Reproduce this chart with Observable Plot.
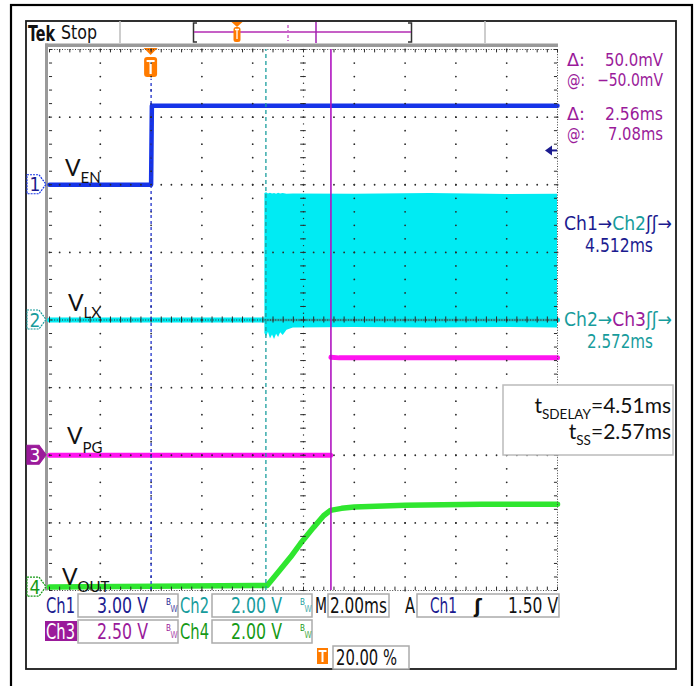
<!DOCTYPE html>
<html>
<head>
<meta charset="utf-8">
<script src="https://cdn.jsdelivr.net/npm/d3@7"></script>
<script src="https://cdn.jsdelivr.net/npm/@observablehq/plot@0.6"></script>
<style>
html,body{margin:0;padding:0;background:#fff;}
#chart{width:699px;height:686px;}
</style>
</head>
<body>
<div id="chart"></div>
<script>
// ---------------- data ----------------
const timeDomain = [-4, 16];                 // ms (2.00 ms/div, trigger at 20 %)
const divDomain = [-4, 4];                   // vertical divisions
const channelVoltsPerDiv = [3.00, 2.00, 2.50, 2.00];
const channelOffsetDiv = [2, 0, -2, -3.95];
const channelNumbers = ["1", "2", "3", "4"];
const channelLabels = [["V", "EN"], ["V", "LX"], ["V", "PG"], ["V", "OUT"]];

// Ch1 : V_EN
const enTime  = [-4, 0, 0.03, 16];
const enVolts = [0, 0, 3.5, 3.5];
// Ch2 : V_LX (baseline + switching envelope)
const lxTime  = [-4, 16];
const lxVolts = [0, 0];
const lxBandTime = [4.48, 4.55, 4.62, 4.7, 4.78, 4.86, 4.94, 5.02, 5.1, 5.2, 5.35, 5.6, 8, 11, 14, 16];
const lxBandHigh = [3.74, 3.76, 3.73, 3.75, 3.73, 3.74, 3.72, 3.75, 3.73, 3.74, 3.72, 3.73, 3.72, 3.74, 3.71, 3.72];
const lxBandLow  = [-0.40, -0.50, -0.36, -0.56, -0.44, -0.58, -0.42, -0.52, -0.38, -0.46, -0.30, -0.24, -0.22, -0.24, -0.22, -0.24];
// Ch3 : V_PG  (null = trace break)
const pgTime  = [-4, 7.07, 7.08, 7.08, 7.4, 16];
const pgVolts = [0, 0, null, 3.62, 3.6, 3.6];
// Ch4 : V_OUT
const outTime  = [-4, 4.57, 4.96, 5.49, 5.88, 6.39, 6.79, 7.06, 7.5, 8, 10, 13, 16];
const outVolts = [0, 0.05, 0.40, 0.89, 1.29, 1.76, 2.11, 2.27, 2.33, 2.37, 2.42, 2.45, 2.45];

const triggerTime = 0;
const cursorTimes = [4.52, 7.08];
const triggerLevelVolts = 1.5;

const cursorReadouts = [["Δ:", "50.0mV"], ["@:", "−50.0mV"], ["Δ:", "2.56ms"], ["@:", "7.08ms"]];
const measureLines = [
  {parts: [["Ch1→", "navy"], ["Ch2", "teal"], ["ʃʃ→", "navy"]], value: "4.512ms", valueColor: "navy"},
  {parts: [["Ch2→", "teal"], ["Ch3", "purple"], ["ʃʃ→", "teal"]], value: "2.572ms", valueColor: "teal"}
];
const noteLines = [["t", "SDELAY", "=4.51ms"], ["t", "SS", "=2.57ms"]];
const scaleTexts = ["3.00 V", "2.00 V", "2.50 V", "2.00 V"];
const horizText = "2.00ms";
const trigText = ["Ch1", "ʃ", "1.50 V"];
const trigPosText = "20.00 %";

// ---------------- styling ----------------
const COL = {
  blue: "#1634e8", cyan: "#00ebf3", magenta: "#ff14f0", green: "#2fe62f",
  navy: "#1b1b8f", teal: "#179c9c", purple: "#9a1a9a", dgreen: "#169a16",
  orange: "#ff7b00", grid: "#2a2a2a"
};
const scopeFont = "'Liberation Sans Narrow','DejaVu Sans Condensed','Arial Narrow','Liberation Sans',sans-serif";
const labelFont = "Lato,'Open Sans','DejaVu Sans',sans-serif";

const toDiv = (ch, v) => (v == null ? NaN : channelOffsetDiv[ch] + v / channelVoltsPerDiv[ch]);
const series = (times, volts, ch) => times.map((t, i) => ({t, y: toDiv(ch, volts[i])}));

const en = series(enTime, enVolts, 0);
const lx = series(lxTime, lxVolts, 1);
const lxBand = lxBandTime.map((t, i) => ({t, lo: toDiv(1, lxBandLow[i]), hi: toDiv(1, lxBandHigh[i])}));
const lxCore = [{t: lxBandTime[0], y: toDiv(1, 0)}, {t: timeDomain[1], y: toDiv(1, 0)}];
const pg = series(pgTime, pgVolts, 2);
const vout = series(outTime, outVolts, 3);

// graticule
const minorX = d3.range(0, 51).map(i => timeDomain[0] + i * 0.4);
const minorY = d3.range(0, 41).map(i => divDomain[0] + i * 0.2);
const halfMinorY = d3.range(0, 81).map(i => divDomain[0] + i * 0.1);
const majorXInner = d3.range(1, 10).map(i => timeDomain[0] + i * 2).filter(x => x !== 6);
const majorYInner = d3.range(1, 8).map(i => divDomain[0] + i).filter(y => y !== 0);
const gridDots = [];
for (const x of majorXInner) for (const y of minorY) gridDots.push({x, y});
for (const y of majorYInner) for (const x of minorX) gridDots.push({x, y});
const centerX = 6, centerY = 0;

const chart = Plot.plot({
  width: 699, height: 686,
  marginLeft: 49, marginRight: 142, marginTop: 49, marginBottom: 96,
  x: {domain: timeDomain, axis: null},
  y: {domain: divDomain, axis: null},
  style: {background: "transparent"},
  marks: [
    // traces
    Plot.areaY(lxBand, {x: "t", y1: "lo", y2: "hi", fill: COL.cyan, curve: "linear"}),
    Plot.line(lx, {x: "t", y: "y", stroke: COL.cyan, strokeWidth: 5}),
    Plot.line(lxCore, {x: "t", y: "y", stroke: "#1fb0b0", strokeWidth: 2.5}),
    Plot.line(en, {x: "t", y: "y", stroke: COL.blue, strokeWidth: 4.5}),
    Plot.line(pg, {x: "t", y: "y", stroke: COL.magenta, strokeWidth: 5}),
    Plot.line(vout, {x: "t", y: "y", stroke: COL.green, strokeWidth: 5.5, strokeLinejoin: "round"}),
    // graticule
    Plot.dot(gridDots, {x: "x", y: "y", r: 0.9, fill: COL.grid, stroke: null}),
    Plot.ruleY([centerY], {stroke: COL.grid, strokeWidth: 1, strokeDasharray: "1,1.6"}),
    Plot.ruleX(minorX, {x: d => d, y1: () => -0.045, y2: () => 0.045, stroke: COL.grid, strokeWidth: 1}),
    Plot.ruleY(minorY, {y: d => d, x1: () => centerX - 0.11, x2: () => centerX + 0.11, stroke: COL.grid, strokeWidth: 1}),
    Plot.dot(halfMinorY, {x: () => centerX, y: d => d, r: 0.7, fill: COL.grid, stroke: null}),
    Plot.ruleY(divDomain, {stroke: "#444", strokeWidth: 1, strokeDasharray: "1,1.6"}),
    Plot.ruleX([timeDomain[1]], {stroke: "#444", strokeWidth: 1, strokeDasharray: "1,1.6"}),
    Plot.ruleX(minorX, {x: d => d, y1: () => 4, y2: () => 3.95, stroke: COL.grid, strokeWidth: 1}),
    Plot.ruleX(minorX, {x: d => d, y1: () => -4, y2: () => -3.95, stroke: COL.grid, strokeWidth: 1}),
    Plot.ruleY(minorY, {y: d => d, x1: () => -4, x2: () => -3.88, stroke: COL.grid, strokeWidth: 1}),
    Plot.ruleY(minorY, {y: d => d, x1: () => 16, x2: () => 15.88, stroke: COL.grid, strokeWidth: 1}),
    // cursors
    Plot.ruleX([triggerTime], {x: d => d, y1: () => -4, y2: () => 3.56, stroke: "#2233cc", strokeWidth: 1.3, strokeDasharray: "3,3"}),
    Plot.ruleX([cursorTimes[0]], {x: d => d, y1: () => -4, y2: () => 4, stroke: "#1a9e9e", strokeWidth: 1.3, strokeDasharray: "4,3"}),
    Plot.ruleX([cursorTimes[1]], {x: d => d, y1: () => -4, y2: () => 4, stroke: "#b014c0", strokeWidth: 1.6})
  ]
});
document.getElementById("chart").appendChild(chart);

const xS = chart.scale("x"), yS = chart.scale("y");
const svg = d3.select(chart);
const back = svg.insert("g", ":first-child").attr("text-anchor", "start");
const front = svg.append("g").attr("text-anchor", "start");

function rect(g, x, y, w, h, attrs) {
  const r = g.append("rect").attr("x", x).attr("y", y).attr("width", w).attr("height", h);
  for (const k in attrs) r.attr(k, attrs[k]);
  return r;
}
function text(g, x, y, s, attrs) {
  const t = g.append("text").attr("x", x).attr("y", y).text(s)
    .attr("font-family", scopeFont).attr("font-size", 20).attr("text-anchor", "start");
  for (const k in attrs) t.attr(k, attrs[k]);
  return t;
}
function line(g, x1, y1, x2, y2, stroke, w, dash) {
  const l = g.append("line").attr("x1", x1).attr("y1", y1).attr("x2", x2).attr("y2", y2)
    .attr("stroke", stroke).attr("stroke-width", w);
  if (dash) l.attr("stroke-dasharray", dash);
  return l;
}
const fit = w => ({textLength: w, lengthAdjust: "spacingAndGlyphs"});

// frames
rect(back, 0, 0, 699, 686, {fill: "#fff"});
rect(back, 11, 5, 681, 700, {fill: "none", stroke: "#000", "stroke-width": 2.2});
rect(back, 26, 21, 650, 648, {fill: "none", stroke: "#1a1a1a", "stroke-width": 1.8});
rect(back, 45, 43.5, 513, 3.5, {fill: "#9a9a9a"});
rect(back, 45, 43.5, 3, 547, {fill: "#9a9a9a"});

// header
line(back, 120, 21, 120, 43, "#bdbdbd", 1.5);
line(back, 485, 21, 485, 43, "#bdbdbd", 1.5);
text(back, 28, 41, "Tek", {"font-weight": "bold", "font-size": 22, fill: "#111", ...fit(27)});
text(back, 61, 39, "Stop", {"font-size": 19, fill: "#111", ...fit(36)});
back.append("path").attr("d", "M197,23H193.5V42H197").attr("fill", "none").attr("stroke", "#333").attr("stroke-width", 1.5);
back.append("path").attr("d", "M408,23H411.5V42H408").attr("fill", "none").attr("stroke", "#333").attr("stroke-width", 1.5);
line(back, 194, 32, 411, 32, "#b32bb3", 1.5);
line(back, 288, 25, 288, 41, "#c765c7", 1.5, "3,2");
line(back, 316, 22, 316, 43, "#a020b0", 1.5);
back.append("path").attr("d", "M231.5,22H242.5L237,27Z").attr("fill", COL.orange);
rect(back, 233.5, 27, 7, 15, {fill: COL.orange, rx: 2.5});
back.append("path").attr("d", "M235,29.5H239M237,29.5V39").attr("stroke", "#fff").attr("stroke-width", 1.3);

// trigger marker on top of graticule
{
  const x = xS.apply(triggerTime);
  back.append("path").attr("d", `M${x - 7},48H${x + 7}L${x},55Z`).attr("fill", COL.orange);
  rect(back, x - 6.5, 57, 13, 20, {fill: COL.orange, rx: 3});
  back.append("path").attr("d", `M${x - 4},61H${x + 4}M${x},61V74`).attr("stroke", "#fff").attr("stroke-width", 2.2);
}

// trigger level arrow
{
  const y = yS.apply(channelOffsetDiv[0] + triggerLevelVolts / channelVoltsPerDiv[0]);
  back.append("path").attr("d", `M545,${y}L552,${y - 5}V${y + 5}Z`).attr("fill", COL.navy);
  line(back, 551, y, 557, y, COL.navy, 2);
}

// channel markers on the left
const markerStyles = [
  {stroke: COL.blue, fill: "#fff", txt: COL.navy},
  {stroke: COL.teal, fill: "#fff", txt: COL.teal},
  {stroke: COL.purple, fill: COL.purple, txt: "#fff"},
  {stroke: COL.dgreen, fill: "#fff", txt: COL.dgreen}
];
channelNumbers.forEach((n, i) => {
  const c = yS.apply(channelOffsetDiv[i]);
  const st = markerStyles[i];
  front.append("path").attr("d", `M27,${c - 9.5}H39L46,${c}L39,${c + 9.5}H27Z`)
    .attr("fill", st.fill).attr("stroke", st.stroke).attr("stroke-width", 1.2)
    .attr("stroke-dasharray", i === 2 ? null : "2,1");
  text(front, 35, c + 7, n, {"text-anchor": "middle", fill: st.txt, "font-size": 19});
});

// channel labels
const labelOffsets = [[65, -8, 7], [68, -9, 7], [67, -11, 9], [62, -2, 7]];
channelLabels.forEach((lab, i) => {
  const c = yS.apply(channelOffsetDiv[i]);
  const [x, dy, sub] = labelOffsets[i];
  const t = front.append("text").attr("x", x).attr("y", c + dy).attr("text-anchor", "start")
    .attr("font-family", labelFont).attr("fill", "#111");
  t.append("tspan").attr("font-size", 23).text(lab[0]);
  t.append("tspan").attr("font-size", 15).attr("dy", sub).text(lab[1]);
});

// cursor readouts
const readY = [66, 86, 120, 140];
const readX = [605, 597, 605, 608];
cursorReadouts.forEach((r, i) => {
  text(front, 567, readY[i], r[0], {fill: COL.purple, "font-size": 17.5, ...fit(18)});
  text(front, readX[i], readY[i], r[1], {fill: COL.purple, "font-size": 17.5, ...fit(663 - readX[i])});
});

// measurements
const colorOf = {navy: COL.navy, teal: COL.teal, purple: COL.purple};
const measY = [[230, 252], [326, 348]];
const measValX = [[585, 68], [587, 66]];
measureLines.forEach((m, i) => {
  const t = text(front, 564, measY[i][0], "", {"font-size": 19, ...fit(108)});
  m.parts.forEach(p => t.append("tspan").attr("fill", colorOf[p[1]]).text(p[0]));
  text(front, measValX[i][0], measY[i][1], m.value, {fill: colorOf[m.valueColor], "font-size": 19, ...fit(measValX[i][1])});
});

// annotation box
rect(front, 503, 385, 170, 70, {fill: "#fff", stroke: "#bbbbbb", "stroke-width": 1.5});
[413, 439].forEach((y, i) => {
  const t = front.append("text").attr("x", 671).attr("y", y).attr("text-anchor", "end")
    .attr("font-family", labelFont).attr("fill", "#111");
  t.append("tspan").attr("font-size", 21).text(noteLines[i][0]);
  t.append("tspan").attr("font-size", 13.5).attr("dy", 6).text(noteLines[i][1]);
  t.append("tspan").attr("font-size", 21).attr("dy", -6).text(noteLines[i][2]);
});

// bottom info boxes
const boxStyle = {fill: "#fff", stroke: "#ababab", "stroke-width": 1.5};
rect(front, 78, 594, 100, 23, boxStyle);
rect(front, 212, 594, 100, 23, boxStyle);
rect(front, 328, 594, 61, 23, boxStyle);
rect(front, 417, 594, 142, 23, boxStyle);
rect(front, 78, 620, 100, 23, boxStyle);
rect(front, 212, 620, 100, 23, boxStyle);
rect(front, 333, 646, 76, 23, boxStyle);

const chColors = [COL.navy, COL.teal, COL.purple, COL.dgreen];
const rowBase = [613, 613, 639, 639];
const chX = [46, 180, 46, 180];
const valX = [97, 231, 97, 231];
const big = {"font-size": 20.5};
[0, 1, 2, 3].forEach(i => {
  if (i === 2) rect(front, 45, 621, 32, 20, {fill: COL.purple});
  text(front, chX[i], rowBase[i], "Ch" + channelNumbers[i], {fill: i === 2 ? "#fff" : chColors[i], ...big, ...fit(29)});
  text(front, valX[i], rowBase[i], scaleTexts[i], {fill: chColors[i], ...big, ...fit(51)});
  const bx = valX[i] + 69;
  text(front, bx, rowBase[i] - 8, "B", {fill: chColors[i], "font-size": 8});
  text(front, bx + 4.5, rowBase[i] - 1, "W", {fill: chColors[i], "font-size": 8, opacity: 0.8});
});
text(front, 315, 613, "M", {fill: "#111", ...big, ...fit(12)});
text(front, 330, 613, horizText, {fill: "#111", ...big, ...fit(57)});
text(front, 405, 613, "A", {fill: "#111", ...big, ...fit(10)});
text(front, 430, 613, trigText[0], {fill: COL.navy, ...big, ...fit(27)});
text(front, 478, 613, trigText[1], {fill: "#111", "font-weight": "bold", "text-anchor": "middle"});
text(front, 508, 613, trigText[2], {fill: "#111", ...big, ...fit(50)});
rect(front, 317, 648, 11, 16, {fill: COL.orange});
front.append("path").attr("d", "M318.5,651H326.5M322.5,651V662").attr("stroke", "#fff").attr("stroke-width", 2);
text(front, 336, 665, trigPosText, {fill: "#111", ...big, ...fit(61)});
</script>
</body>
</html>
